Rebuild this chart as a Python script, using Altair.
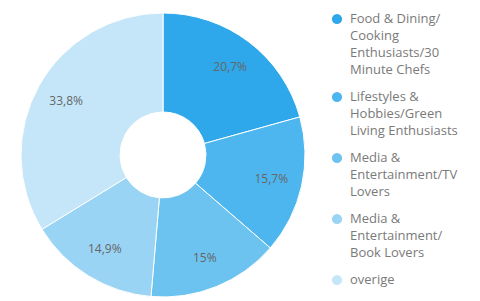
import altair as alt
import pandas as pd

categories = [
    "Food & Dining/Cooking Enthusiasts/30 Minute Chefs",
    "Lifestyles & Hobbies/Green Living Enthusiasts",
    "Media & Entertainment/TV Lovers",
    "Media & Entertainment/Book Lovers",
    "overige",
]
legend_lines = [
    ["Food & Dining/", "Cooking", "Enthusiasts/30", "Minute Chefs"],
    ["Lifestyles &", "Hobbies/Green", "Living Enthusiasts"],
    ["Media &", "Entertainment/TV", "Lovers"],
    ["Media &", "Entertainment/", "Book Lovers"],
    ["overige"],
]
values = [20.7, 15.7, 15.0, 14.9, 33.8]
value_labels = ["20,7%", "15,7%", "15%", "14,9%", "33,8%"]
colors = ["#2ea8ea", "#4db6ee", "#6cc3f0", "#9ad4f4", "#c4e6f8"]

df = pd.DataFrame({
    "cat": categories,
    "value": values,
    "label": value_labels,
    "idx": list(range(len(values))),
})

# legend rows: one per text line, slot = line number plus a gap between entries
GAP = 10 / 17
rows = []
n = 0
for i, (cat, lines) in enumerate(zip(categories, legend_lines)):
    for j, line in enumerate(lines):
        rows.append({"cat": cat, "line": line, "slot": n + i * GAP, "first": j == 0})
        n += 1
leg = pd.DataFrame(rows)

color_scale = alt.Scale(domain=categories, range=colors)
y_scale = alt.Scale(domain=[0, 16], range=[11, 11 + 17 * 16])

base = alt.Chart(df).encode(
    theta=alt.Theta("value:Q", stack=True),
    order=alt.Order("idx:Q"),
)

arc = base.mark_arc(outerRadius=142, innerRadius=43, stroke="white", strokeWidth=1).encode(
    x=alt.value(155),
    y=alt.value(147),
    color=alt.Color("cat:N", scale=color_scale, legend=None),
)

text = base.mark_text(radius=111, font="Open Sans", fontSize=12, color="#666666").encode(
    x=alt.value(155),
    y=alt.value(147),
    text="label:N",
)

leg_sym = alt.Chart(leg).transform_filter("datum.first").mark_point(
    shape="circle", filled=True, size=105, opacity=1
).encode(
    x=alt.value(329),
    y=alt.Y("slot:Q", scale=y_scale, axis=None),
    color=alt.Color("cat:N", scale=color_scale, legend=None),
)

leg_text = alt.Chart(leg).mark_text(
    align="left", baseline="middle", font="Open Sans", fontSize=13, color="#7a7a7a"
).encode(
    x=alt.value(342),
    y=alt.Y("slot:Q", scale=y_scale, axis=None),
    text="line:N",
)

chart = (arc + text + leg_sym + leg_text).properties(
    width=300, height=285, padding=0
).configure_view(stroke=None)

chart.save("out.html", embed_options={"renderer": "svg", "actions": False})
